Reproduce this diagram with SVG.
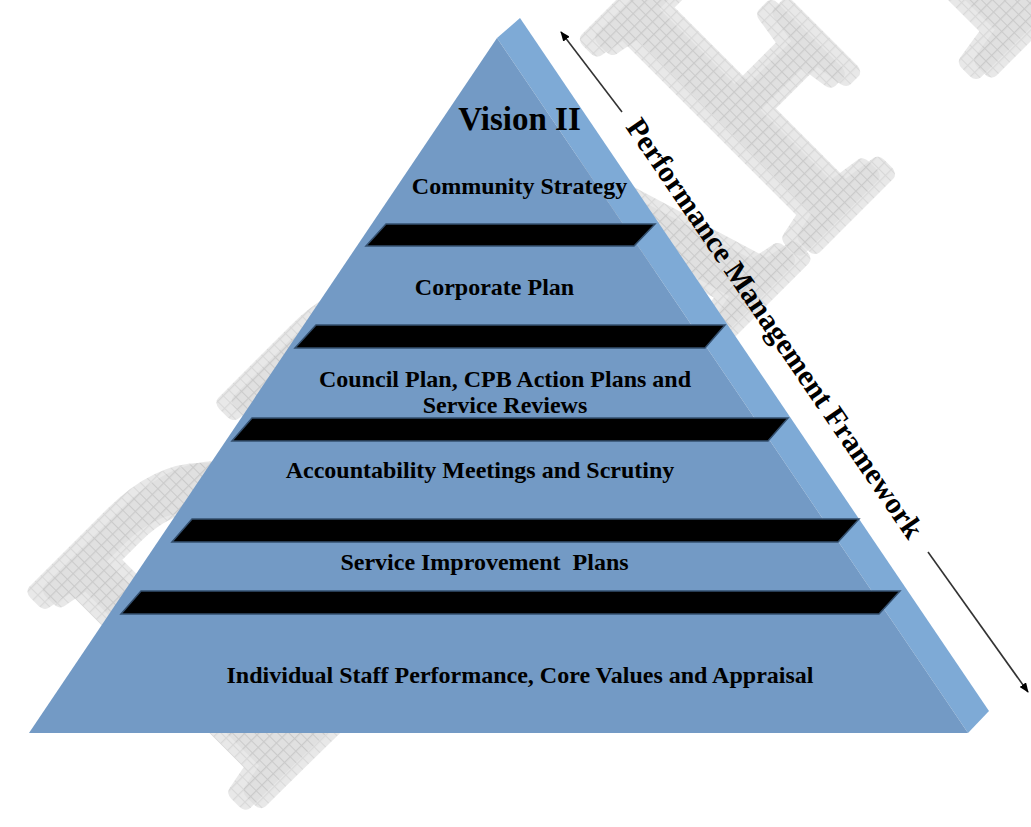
<svg xmlns="http://www.w3.org/2000/svg" width="1031" height="827" viewBox="0 0 1031 827">
  <style>
    .tier { font-family: "Liberation Serif", "Times New Roman", serif; font-weight: bold; font-size: 24px; fill: #000; text-anchor: middle; }
    .band { fill: #000; stroke: #34506f; stroke-width: 1.5; stroke-linejoin: miter; }
    .conn { stroke: #333; stroke-width: 1.6; fill: none; }
    .wm { font-family: "Liberation Serif", "Times New Roman", serif; font-size: 370px; text-anchor: middle; fill: url(#hatch); stroke: url(#hatch); stroke-width: 14; stroke-linejoin: round; opacity: 0.65; }
  </style>
  <defs>
    <pattern id="hatch" width="8" height="8" patternUnits="userSpaceOnUse">
      <rect width="8" height="8" fill="#dcdcdc"/>
      <path d="M0 0.5H8M0.5 0V8" stroke="#c4c4c4" stroke-width="1"/>
    </pattern>
    <marker id="arrow" viewBox="0 0 10 8" refX="9" refY="4" markerWidth="10" markerHeight="8" markerUnits="userSpaceOnUse" orient="auto">
      <path d="M0 0L10 4L0 8z" fill="#000"/>
    </marker>
  </defs>

  <rect width="1031" height="827" fill="#fff"/>

  <!-- background watermark, two offset layers -->
  <g id="watermark" transform="translate(681,379) rotate(-45) scale(1,1.22)">
    <text class="wm" x="-12" y="-8">DRAFT</text>
    <text class="wm" x="0" y="0">DRAFT</text>
  </g>

  <!-- pyramid body: front face and lit right face -->
  <g id="pyramid">
    <polygon points="497,38 520,18 989,711 968,733" fill="#7eaad6"/>
    <polygon points="497,38 29,733 968,733" fill="#739ac5"/>
  </g>

  <!-- separator bands between tiers -->
  <g id="bands">
    <polygon class="band" points="386,224 655,224 634,246 366,246"/>
    <polygon class="band" points="316,325 725,325 705,348 295,348"/>
    <polygon class="band" points="252,418 788,418 768,441 232,441"/>
    <polygon class="band" points="192,519 859,519 838,542 172,542"/>
    <polygon class="band" points="141,591 900,591 879,614 121,614"/>
  </g>

  <g id="tier-vision">
    <text class="tier" x="519.5" y="130" style="font-size:33px">Vision II</text>
  </g>
  <g id="tier-community">
    <text class="tier" x="519.5" y="194">Community Strategy</text>
  </g>
  <g id="tier-corporate">
    <text class="tier" x="494.5" y="295">Corporate Plan</text>
  </g>
  <g id="tier-council">
    <text class="tier" x="505" y="387">Council Plan, CPB Action Plans and</text>
    <text class="tier" x="505" y="413">Service Reviews</text>
  </g>
  <g id="tier-accountability">
    <text class="tier" x="480" y="478">Accountability Meetings and Scrutiny</text>
  </g>
  <g id="tier-improvement">
    <text class="tier" x="484.5" y="570" xml:space="preserve">Service Improvement  Plans</text>
  </g>
  <g id="tier-individual">
    <text class="tier" x="520" y="683">Individual Staff Performance, Core Values and Appraisal</text>
  </g>

  <!-- double-ended framework arrow along the pyramid's right side -->
  <g id="connectors">
    <line class="conn" x1="622" y1="112" x2="561" y2="32" marker-end="url(#arrow)"/>
    <line class="conn" x1="928" y1="552" x2="1028" y2="692" marker-end="url(#arrow)"/>
  </g>

  <g id="framework-label">
    <text transform="translate(625,127) rotate(55.6)" x="0" y="0" style="font-family:'Liberation Serif','Times New Roman',serif;font-weight:bold;font-size:30px;fill:#000">Performance Management Framework</text>
  </g>
</svg>
